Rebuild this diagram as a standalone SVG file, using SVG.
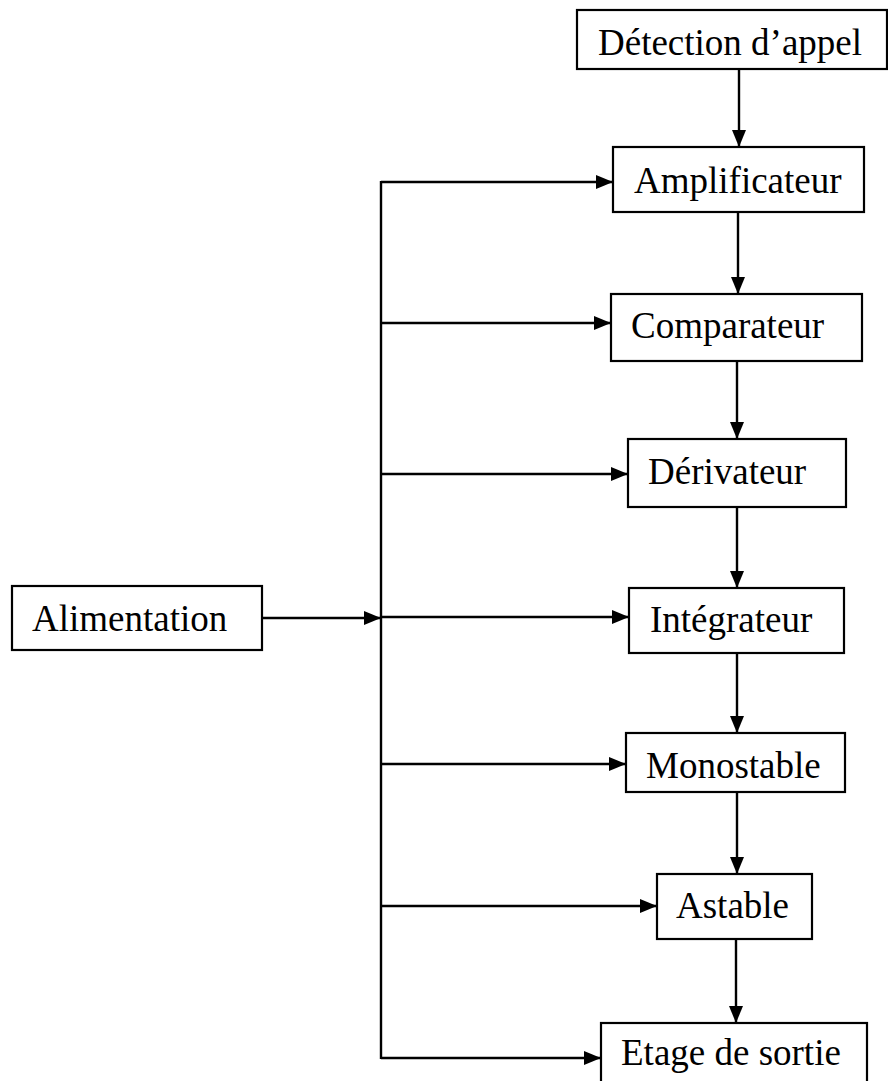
<svg xmlns="http://www.w3.org/2000/svg" width="888" height="1081" viewBox="0 0 888 1081">
<style>
.box{fill:#fff;stroke:#000;stroke-width:2.2}
.lbl{font-family:"Liberation Serif","Times New Roman",serif;font-size:37px;fill:#000}
.ln{fill:none;stroke:#000;stroke-width:2.4}
.arr{fill:none;stroke:#000;stroke-width:2.4;marker-end:url(#ah)}
</style>
<defs>
<marker id="ah" markerUnits="userSpaceOnUse" markerWidth="17" markerHeight="15" refX="17" refY="7" orient="auto">
<path d="M0,0 L17,7 L0,14 z" fill="#000"/>
</marker>
</defs>
<g id="connectors">
<line class="arr" x1="739" y1="69" x2="739" y2="147"/>
<line class="arr" x1="738" y1="212" x2="738" y2="294"/>
<line class="arr" x1="737" y1="361" x2="737" y2="439"/>
<line class="arr" x1="737" y1="507" x2="737" y2="588"/>
<line class="arr" x1="737" y1="653" x2="737" y2="733"/>
<line class="arr" x1="737" y1="792" x2="737" y2="874"/>
<line class="arr" x1="736" y1="939" x2="736" y2="1023"/>
<line class="ln" x1="381" y1="181" x2="381" y2="1059"/>
<line class="arr" x1="381" y1="182" x2="613" y2="182"/>
<line class="arr" x1="381" y1="323" x2="611" y2="323"/>
<line class="arr" x1="381" y1="474" x2="628" y2="474"/>
<line class="arr" x1="381" y1="617" x2="629" y2="617"/>
<line class="arr" x1="381" y1="764" x2="626" y2="764"/>
<line class="arr" x1="381" y1="906" x2="657" y2="906"/>
<line class="arr" x1="381" y1="1058" x2="601" y2="1058"/>
<line class="arr" x1="262" y1="618" x2="381" y2="618"/>
</g>
<g id="detection"><rect class="box" x="577" y="10" width="310" height="59"/><text class="lbl" x="598" y="55">Détection d’appel</text></g>
<g id="amplificateur"><rect class="box" x="613" y="147" width="251" height="65"/><text class="lbl" x="634" y="193">Amplificateur</text></g>
<g id="comparateur"><rect class="box" x="611" y="294" width="251" height="67"/><text class="lbl" x="631" y="338">Comparateur</text></g>
<g id="derivateur"><rect class="box" x="628" y="439" width="218" height="68"/><text class="lbl" x="648" y="484">Dérivateur</text></g>
<g id="integrateur"><rect class="box" x="629" y="588" width="215" height="65"/><text class="lbl" x="650" y="632">Intégrateur</text></g>
<g id="alimentation"><rect class="box" x="12" y="586" width="250" height="64"/><text class="lbl" x="32" y="631">Alimentation</text></g>
<g id="monostable"><rect class="box" x="626" y="733" width="219" height="59"/><text class="lbl" x="646" y="778">Monostable</text></g>
<g id="astable"><rect class="box" x="657" y="874" width="155" height="65"/><text class="lbl" x="676" y="918">Astable</text></g>
<g id="etage"><rect class="box" x="601" y="1023" width="266" height="70"/><text class="lbl" x="621" y="1065">Etage de sortie</text></g>
</svg>
